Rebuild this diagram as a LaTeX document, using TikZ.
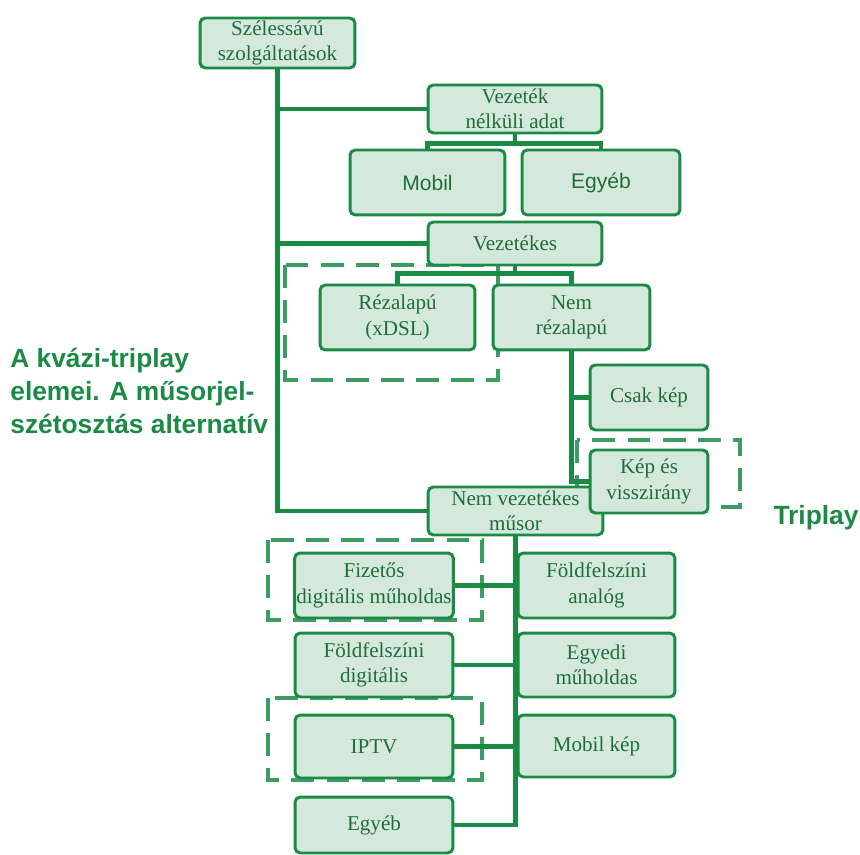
\documentclass[tikz,border=0pt]{standalone}
\usepackage{fontspec}
\setmainfont{Liberation Serif}
\setsansfont{Liberation Sans}
\definecolor{szold}{HTML}{1A8A45}
\definecolor{doboz}{HTML}{D5E8DC}
\definecolor{betu}{HTML}{1F6E3A}
\tikzset{
  box/.style={draw=szold,line width=1.7pt,fill=doboz,rounded corners=3pt,text=betu,
    font=\fontsize{12}{14.4}\selectfont,align=center,inner sep=1pt},
  sbox/.style={box,font=\sffamily\fontsize{12}{14.4}\selectfont},
  lbox/.style={box,minimum width=3.16cm},
  rbox/.style={box,minimum width=3.14cm},
  link/.style={draw=szold,line width=2.6pt},
  grp/.style={draw=szold!85,line width=2.8pt,dash pattern=on 13pt off 7pt},
  lbl/.style={text=szold,font=\sffamily\bfseries\fontsize{15}{19}\selectfont,inner sep=0pt}
}
\begin{document}
\begin{tikzpicture}[x=0.02cm,y=-0.02cm]
  \useasboundingbox (0,0) rectangle (860,855);
  % csoportok
  \draw[grp] (285,265) rectangle (498,380);
  \draw[grp] (577,440) rectangle (740,507);
  \draw[grp] (268,540) rectangle (482,620);
  \draw[grp] (268,698) rectangle (482,780);
  % dobozok
  \node[box,minimum width=3.1cm,minimum height=1cm] (top) at (277.5,43) {Szélessávú\\szolgáltatások};
  \node[box,minimum width=3.48cm,minimum height=0.96cm] (wadat) at (515,109) {Vezeték\\nélküli adat};
  \node[sbox,minimum width=3.1cm,minimum height=1.3cm] (mobil) at (427.5,182.5) {Mobil};
  \node[sbox,minimum width=3.16cm,minimum height=1.3cm] (egyeb1) at (601,182.5) {Egyéb};
  \node[box,minimum width=3.48cm,minimum height=0.86cm] (vezetekes) at (515,243.5) {Vezetékes};
  \node[box,minimum width=3.1cm,minimum height=1.3cm] (rez) at (397.5,317.5) {Rézalapú\\(xDSL)};
  \node[box,minimum width=3.14cm,minimum height=1.3cm] (nemrez) at (571.5,317.5) {Nem\\rézalapú};
  \node[box,minimum width=2.36cm,minimum height=1.3cm] (csak) at (649,397.5) {Csak kép};
  \node[box,minimum width=3.5cm,minimum height=0.96cm] (nemvez) at (515.5,511) {Nem vezetékes\\műsor};
  \node[box,minimum width=2.36cm,minimum height=1.26cm] (kepv) at (649,481.5) {Kép és\\visszirány};
  \node[lbox,minimum height=1.3cm] (fiz) at (374,585.5) {Fizetős\\digitális műholdas};
  \node[rbox,minimum height=1.3cm] (foldan) at (596.5,585.5) {Földfelszíni\\analóg};
  \node[lbox,minimum height=1.28cm] (folddig) at (374,665) {Földfelszíni\\digitális};
  \node[rbox,minimum height=1.28cm] (egyedi) at (596.5,665) {Egyedi\\műholdas};
  \node[lbox,minimum height=1.26cm] (iptv) at (374,746.5) {IPTV};
  \node[rbox,minimum height=1.24cm] (mobilkep) at (596.5,746) {Mobil kép};
  \node[lbox,minimum height=1.12cm] (egyeb2) at (374,825) {Egyéb};
  % feliratok
  \node[lbl,anchor=west,align=left] (kvazi) at (10,391) {A kvázi-triplay\\ elemei. A műsorjel-\\szétosztás alternatív};
  \node[lbl] (triplay) at (816,518) {Triplay};
  % vonalak
  \draw[link] (top.south) |- (wadat.west);
  \draw[link] (top.south) |- (vezetekes.west);
  \draw[link] (top.south) |- (nemvez.west);
  \draw[link] (wadat.south) -- +(0,9) -| (mobil.north);
  \draw[link] (wadat.south) -- +(0,9) -| (egyeb1.north);
  \draw[link] (vezetekes.south) -- +(0,7) -| (rez.north);
  \draw[link] (vezetekes.south) -- +(0,7) -| (nemrez.north);
  \draw[link] (nemrez.south) |- (csak.west);
  \draw[link] (nemrez.south) |- (kepv.west);
  \draw[link] (nemvez.south) |- (fiz.east);
  \draw[link] (nemvez.south) |- (folddig.east);
  \draw[link] (nemvez.south) |- (iptv.east);
  \draw[link] (nemvez.south) |- (egyeb2.east);
  \draw[link] (nemvez.south) |- (foldan.west);
  \draw[link] (nemvez.south) |- (egyedi.west);
  \draw[link] (nemvez.south) |- (mobilkep.west);
\end{tikzpicture}
\end{document}
